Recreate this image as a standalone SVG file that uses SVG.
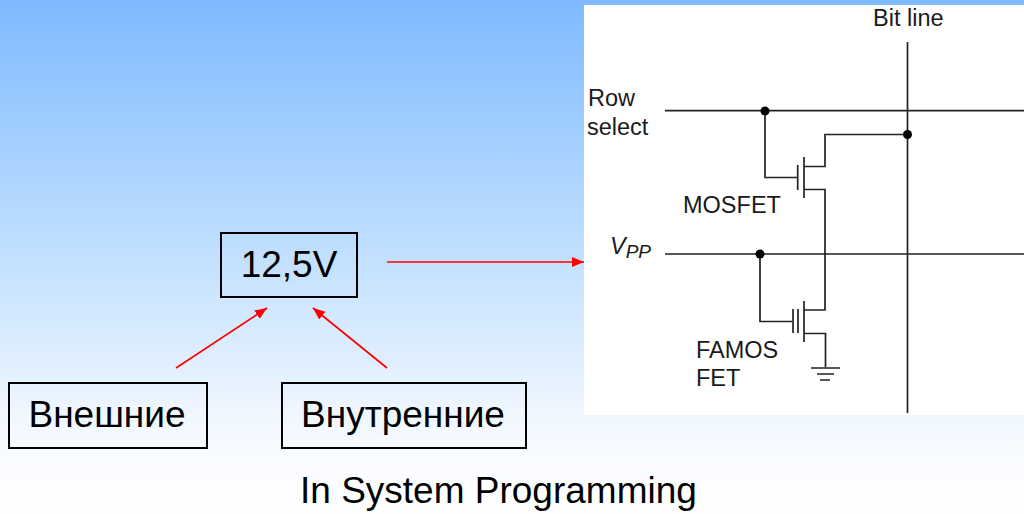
<svg xmlns="http://www.w3.org/2000/svg" width="1024" height="514" viewBox="0 0 1024 514">
<style>
.box{fill:none;stroke:#000;stroke-width:2}
.t{font-family:"Liberation Sans",Arial,sans-serif;fill:#000}
.lbl{font-size:37px;text-anchor:middle}
.c{font-size:23.5px;fill:#1a1a1a}
.w{fill:none;stroke:#222;stroke-width:1.7}
.arrow{stroke:#f00;stroke-width:1.7;fill:none;marker-end:url(#ah)}
</style>
<defs>
<linearGradient id="bg" x1="0" y1="0" x2="0" y2="1">
<stop offset="0" stop-color="#7fbaff"/><stop offset="0.43" stop-color="#b8dbff"/><stop offset="0.81" stop-color="#f0f7ff"/><stop offset="0.9" stop-color="#fafcff"/><stop offset="1" stop-color="#ffffff"/>
</linearGradient>
<marker id="ah" markerUnits="userSpaceOnUse" markerWidth="13" markerHeight="11" refX="12" refY="5" orient="auto">
<path d="M0 0L12 5L0 10z" fill="#f00"/>
</marker>
</defs>
<rect id="background" width="1024" height="514" fill="url(#bg)"/>
<g id="circuit">
<rect x="584" y="5" width="440" height="410" fill="#fff"/>
<path class="w" d="M665 110.7H1024M907.5 42V413M665 254H1024"/>
<path class="w" d="M765 111V177.5H797M797.7 165V190M804 157V198M804 166.5H825V134.5H907M804 189.5H825V310H804"/>
<path class="w" d="M760 254V321.5H792M793 309V333M798 309V333M804 301V342M804 333.5H825.5V367"/>
<path class="w" d="M811 368H840M817 374H834M820 380H830"/>
<circle cx="765" cy="111" r="4.5" fill="#000"/>
<circle cx="907.5" cy="134.5" r="4.5" fill="#000"/>
<circle cx="760" cy="254" r="4.5" fill="#000"/>
<text class="t c" x="873" y="26">Bit line</text>
<text class="t c" x="588" y="106">Row</text>
<text class="t c" x="587" y="135">select</text>
<text class="t c" x="683" y="213">MOSFET</text>
<text class="t c" x="610" y="254" font-style="italic" font-size="25">V<tspan font-size="19" dy="4">PP</tspan></text>
<text class="t c" x="696" y="358">FAMOS</text>
<text class="t c" x="696" y="386">FET</text>
</g>
<g id="node-voltage"><rect class="box" x="221" y="233" width="136" height="64"/><text class="t lbl" x="289" y="277">12,5V</text></g>
<g id="node-external"><rect class="box" x="9" y="383" width="198" height="65"/><text class="t lbl" x="107" y="427">Внешние</text></g>
<g id="node-internal"><rect class="box" x="282" y="383" width="244" height="65"/><text class="t lbl" x="403" y="427">Внутренние</text></g>
<g id="connectors">
<path class="arrow" d="M387 262H584"/>
<path class="arrow" d="M176 368L267 308"/>
<path class="arrow" d="M387 368L313 308"/>
</g>
<text class="t" x="300" y="503" font-size="37">In System Programming</text>
</svg>
